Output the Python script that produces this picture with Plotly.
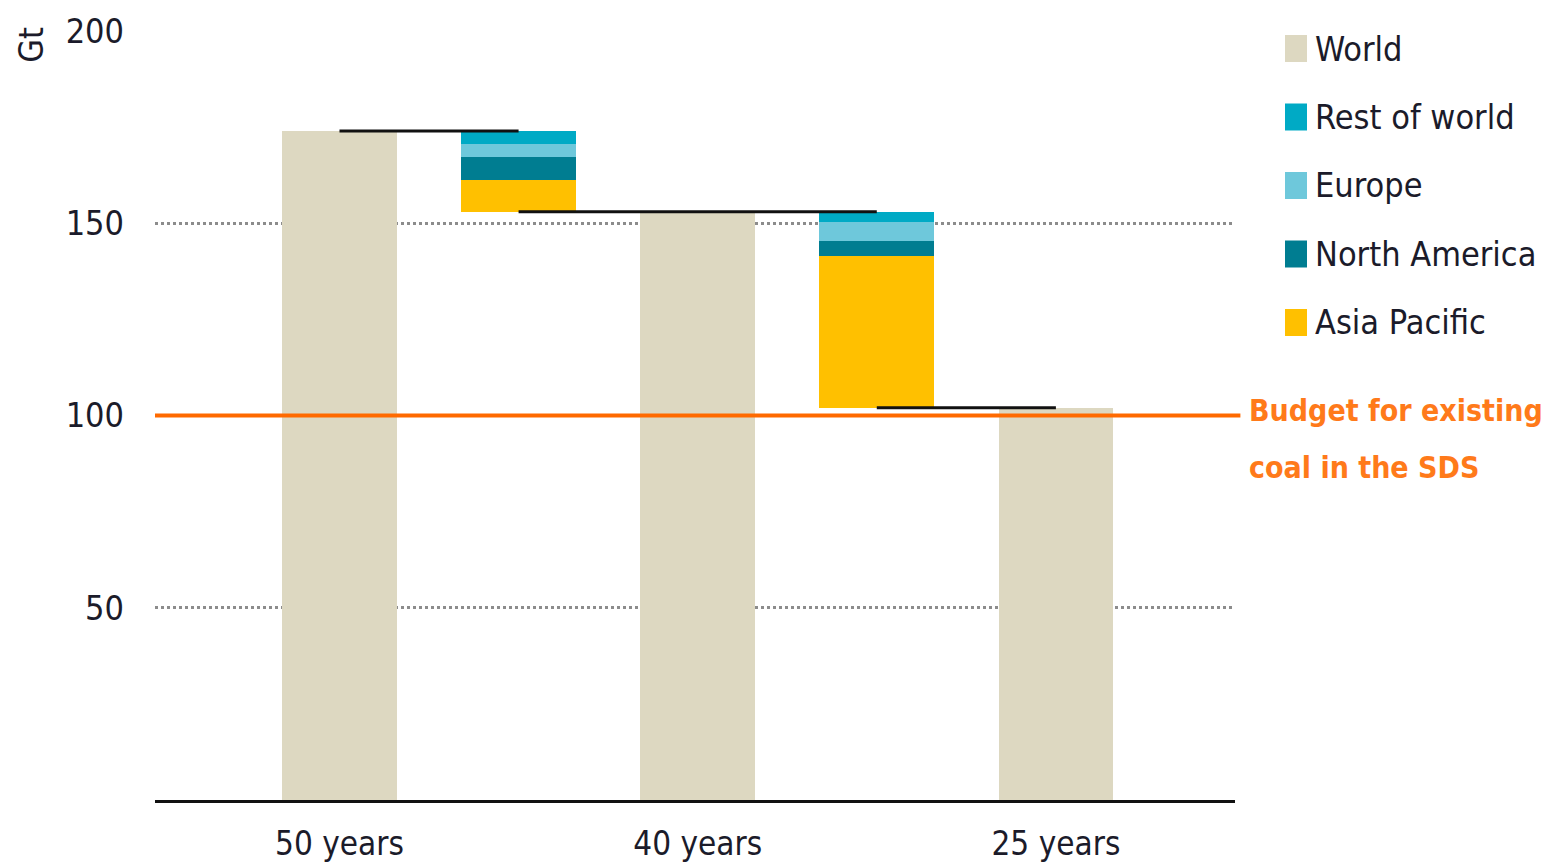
import plotly.graph_objects as go

# Remaining coal emissions by plant lifetime (Gt)
lifetimes = ["50 years", "40 years", "25 years"]
world_totals = [174.0, 153.0, 102.0]

# Reductions between consecutive lifetimes, by region
regions = ["Asia Pacific", "North America", "Europe", "Rest of world"]
reduction_50_to_40 = [8.3, 6.0, 3.4, 3.3]
reduction_40_to_25 = [39.6, 3.9, 4.9, 2.6]

sds_budget = 100
budget_label = ["Budget for existing", "coal in the SDS"]

colors = {
    "World": "#DDD8C1",
    "Rest of world": "#00AAC5",
    "Europe": "#6EC8DB",
    "North America": "#007D91",
    "Asia Pacific": "#FFC000",
}
legend_order = ["World", "Rest of world", "Europe", "North America", "Asia Pacific"]

FONT = "DejaVu Sans Condensed, DejaVu Sans, sans-serif"
TEXT = "#1B1B2A"


def cfont(size, color=TEXT, weight="normal"):
    return dict(family=FONT, size=size, color=color, weight=weight)


# x positions: totals at 0, 2, 4; reduction steps in between
total_x = [0, 2, 4]
step_x = [1, 3]
steps = [reduction_50_to_40, reduction_40_to_25]
bar_w = 0.64

fig = go.Figure()

fig.add_trace(go.Bar(
    x=total_x, y=world_totals, width=bar_w,
    marker=dict(color=colors["World"], line=dict(width=0)),
    name="World", showlegend=False,
))

# Floating stacked segments: each step sits on top of the next total
for xi, step, base_total in zip(step_x, steps, world_totals[1:]):
    base = base_total
    for region, val in zip(regions, step):
        fig.add_trace(go.Bar(
            x=[xi], y=[val], base=[base], width=bar_w,
            marker=dict(color=colors[region], line=dict(width=0)),
            name=region, showlegend=False,
        ))
        base += val

# Connector lines between bar tops
connectors = [
    ([total_x[0], step_x[0]], world_totals[0]),
    ([step_x[0], step_x[1]], world_totals[1]),
    ([step_x[1], total_x[2]], world_totals[2]),
]
for xs, yv in connectors:
    fig.add_trace(go.Scatter(
        x=xs, y=[yv, yv], mode="lines",
        line=dict(color="#111111", width=3),
        showlegend=False, hoverinfo="skip",
    ))

shapes = [
    # SDS budget line
    dict(type="line", xref="paper", yref="y", x0=0, x1=1.005,
         y0=sds_budget, y1=sds_budget,
         line=dict(color="#FF6A00", width=4), layer="above"),
]

annotations = [
    dict(text="Gt", xref="paper", yref="paper", x=-0.115, y=1.008,
         xanchor="center", yanchor="top", textangle=-90, showarrow=False,
         font=cfont(34)),
]

# Budget label, two lines beside the budget line
for j, line_txt in enumerate(budget_label):
    annotations.append(dict(
        text=line_txt, xref="paper", yref="y",
        x=1.011, y=sds_budget + 1.4 - 14.8 * j,
        xanchor="left", yanchor="middle", align="left", showarrow=False,
        font=cfont(30, "#FF7A1A", "bold"),
    ))

# Legend drawn as swatches with labels
leg_top = 35
leg_step = 68.5
for i, name in enumerate(legend_order):
    top = leg_top + i * leg_step
    shapes.append(dict(type="rect", xref="paper", yref="paper",
                       x0=(1285 - 155) / 1080, x1=(1307 - 155) / 1080,
                       y0=(800 - (top + 27)) / 769, y1=(800 - top) / 769,
                       fillcolor=colors[name], line=dict(width=0)))
    annotations.append(dict(text=name, xref="paper", yref="paper",
                            x=(1313 - 155) / 1080, y=(800 - (top + 13.5)) / 769,
                            xanchor="left", yanchor="middle", showarrow=False,
                            font=cfont(34)))

fig.update_layout(
    width=1554, height=868,
    margin=dict(l=155, r=319, t=31, b=68),
    plot_bgcolor="white", paper_bgcolor="white",
    barmode="overlay",
    bargap=0,
    shapes=shapes,
    annotations=annotations,
    xaxis=dict(
        range=[-1.03, 5.0], tickvals=total_x, ticktext=lifetimes,
        showgrid=False, zeroline=False, automargin=False,
        showline=True, linecolor="#111111", linewidth=3,
        ticks="", ticklabelstandoff=12,
        tickfont=cfont(33),
    ),
    yaxis=dict(
        range=[0, 200], tickvals=[50, 100, 150, 200],
        showgrid=True, gridcolor="#8C8C8C", gridwidth=2.5, griddash="dot",
        zeroline=False, showline=False, ticks="", automargin=False,
        ticklabelstandoff=30,
        tickfont=cfont(34),
    ),
)

fig.write_html("out.html")
